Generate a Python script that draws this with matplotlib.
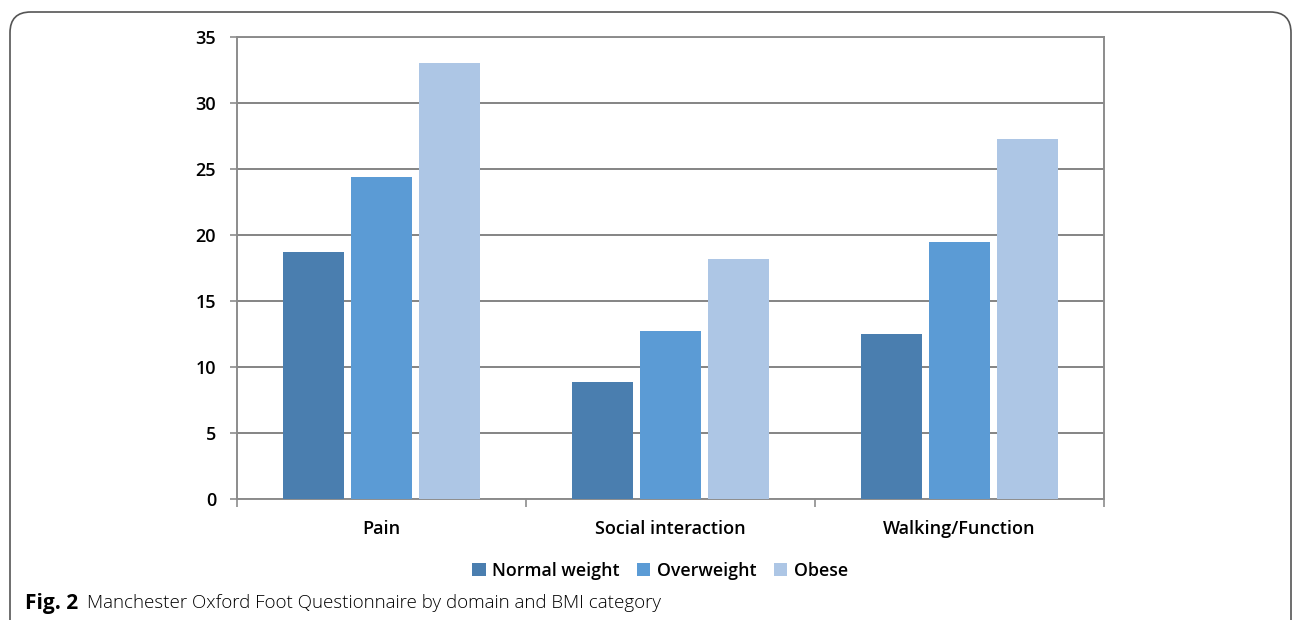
import matplotlib.pyplot as plt
import numpy as np
from matplotlib.patches import FancyBboxPatch

# Mean MOXFQ scores per domain and BMI group
domains = ["Pain", "Social interaction", "Walking/Function"]
groups = ["Normal weight", "Overweight", "Obese"]
normal_weight = [18.7, 8.9, 12.5]
overweight = [24.4, 12.7, 19.5]
obese = [33.0, 18.2, 27.3]
colors = ["#4A7EAF", "#5B9BD5", "#ADC6E5"]

plt.rcParams['font.family'] = ['Open Sans', 'DejaVu Sans']

fig = plt.figure(figsize=(12.95, 6.2), dpi=100)
ax = fig.add_axes([237 / 1295, 1 - 499 / 620, 867 / 1295, 462 / 620])

x = np.arange(len(domains))
width = 0.211
offset = 0.235
for i, (vals, name) in enumerate(zip([normal_weight, overweight, obese], groups)):
    ax.bar(x + (i - 1) * offset, vals, width, color=colors[i], label=name, zorder=3)

ax.set_xlim(-0.5, 2.5)
ax.set_ylim(0, 35)
ax.set_yticks(range(0, 36, 5))
ax.yaxis.grid(True, color="#707070", linewidth=1.2, zorder=0)

# category labels centred, tick marks on category boundaries
ax.set_xticks(x)
ax.set_xticklabels(domains, fontsize=13, fontweight='semibold')
ax.tick_params(axis='x', length=0, pad=15)
ax.set_xticks([-0.5, 0.5, 1.5, 2.5], minor=True)
ax.tick_params(axis='x', which='minor', length=6, color="#8c8c8c", width=1.2)
ax.tick_params(axis='y', length=5, color="#8c8c8c", width=1.2, labelsize=13, pad=10)
for lbl in ax.get_yticklabels():
    lbl.set_fontweight('semibold')

for side in ['left', 'right', 'bottom', 'top']:
    ax.spines[side].set_color("#8c8c8c")
    ax.spines[side].set_linewidth(1.4)

ax.legend(loc='center', bbox_to_anchor=(660 / 1295, 1 - 571 / 620),
          bbox_transform=fig.transFigure, ncol=3, frameon=False,
          handlelength=0.75, handleheight=0.75,
          handletextpad=0.35, columnspacing=1.0,
          prop={'weight': 'semibold', 'size': 12.8})

# caption
fig.text(25 / 1295, 1 - 603 / 620, "Fig. 2", fontsize=15, fontweight='bold',
         va='center', ha='left')
fig.text(87 / 1295, 1 - 603 / 620,
         "Manchester Oxford Foot Questionnaire by domain and BMI category",
         fontsize=13.5, fontweight='light', va='center', ha='left')

# rounded frame around the figure panel
frame = FancyBboxPatch((10 / 1295, -0.1), 1281 / 1295, 1 - 12 / 620 + 0.1,
                       boxstyle="round,pad=0,rounding_size=0.016",
                       transform=fig.transFigure, fill=False,
                       edgecolor="#555555", linewidth=1.2,
                       mutation_aspect=1295 / 620)
fig.patches.append(frame)

fig.savefig("out.png", dpi=100)
